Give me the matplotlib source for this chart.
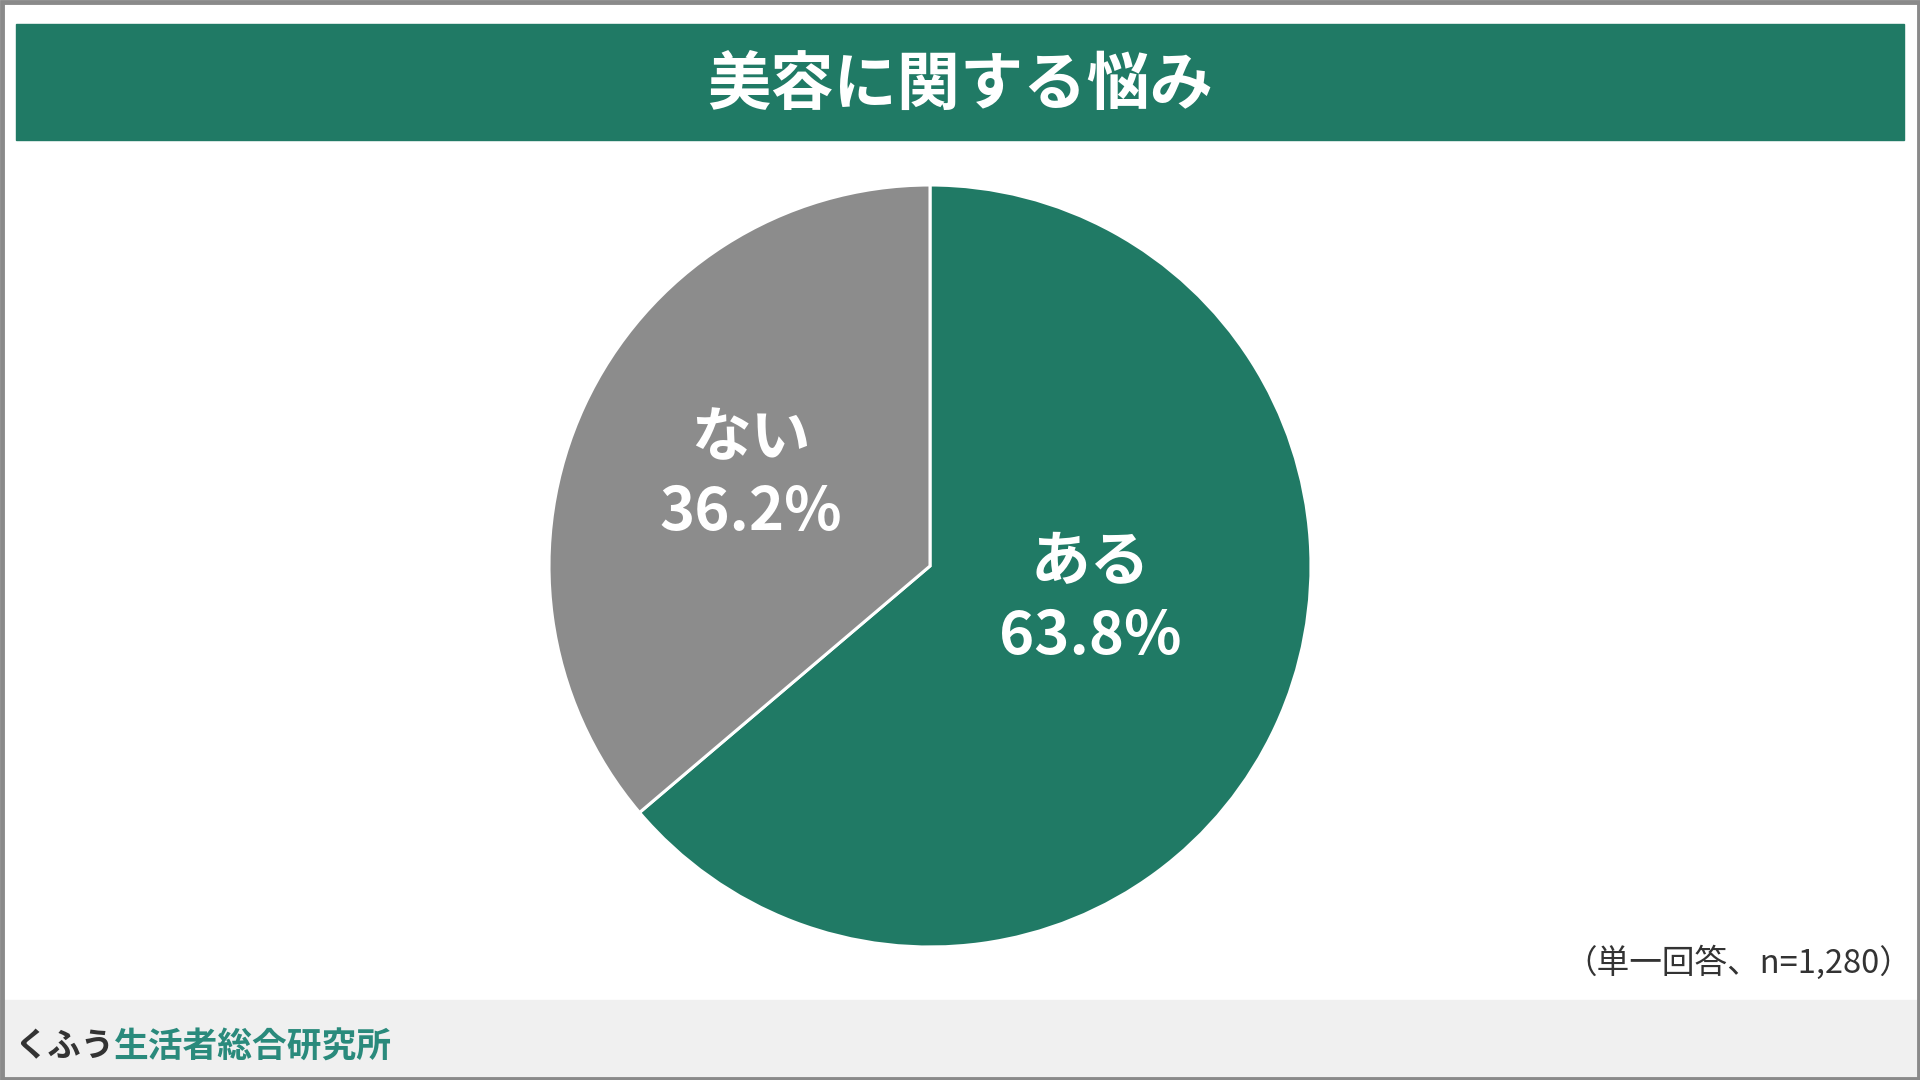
import matplotlib
matplotlib.use("Agg")
import matplotlib.pyplot as plt
from matplotlib.patches import Rectangle

plt.rcParams["font.family"] = ["Noto Sans CJK JP", "DejaVu Sans"]

# data
labels = ["ある", "ない"]
shares = [63.8, 36.2]
colors = ["#207a65", "#8c8c8c"]
title = "美容に関する悩み"
note = "（単一回答、n=1,280）"

W, H = 1920, 1080
fig = plt.figure(figsize=(W / 100, H / 100), dpi=100)
fig.patch.set_facecolor("white")

# outer frame, title bar, footer band (figure pixel coords)
bg = fig.add_axes([0, 0, 1, 1])
bg.set_xlim(0, W)
bg.set_ylim(H, 0)
bg.axis("off")
bg.add_patch(Rectangle((0, 1000), W, 80, color="#f0f0f0", zorder=1))
bg.add_patch(Rectangle((16, 24), 1888, 116, color="#207a65", zorder=1))
bg.add_patch(Rectangle((1.5, 1.5), W - 3, H - 3, fill=False, ec="#8a8a8a", lw=3.5, zorder=5))
bg.text(W / 2, 85, title, color="white", fontsize=45.5, fontweight="bold",
        ha="center", va="center", zorder=3)
bg.text(1912, 963, note, color="#333333", fontsize=23.5, ha="right", va="center")
bg.text(14, 1047, "くふう", color="#333333", fontsize=24, fontweight="bold",
        ha="left", va="center")
bg.text(114, 1047, "生活者総合研究所", color="#2a8a7c", fontsize=25, fontweight="bold",
        ha="left", va="center")

# pie
cx, cy, r = 930, 566, 381
ax = fig.add_axes([(cx - r) / W, (H - cy - r) / H, 2 * r / W, 2 * r / H])
wedges, _ = ax.pie(shares, colors=colors, startangle=90, counterclock=False,
                   radius=1.0, wedgeprops=dict(edgecolor="white", linewidth=2.2))
ax.set_xlim(-1, 1)
ax.set_ylim(-1, 1)
ax.set_aspect("equal")
ax.axis("off")

# label anchors in pie data units
label_pos = [(0.42, -0.09), (-0.47, 0.235)]
for lab, val, (x, y) in zip(labels, shares, label_pos):
    ax.text(x, y + 0.097, lab, color="white", fontsize=43, fontweight="bold",
            ha="center", va="center")
    ax.text(x, y - 0.097, f"{val:.1f}%", color="white", fontsize=43, fontweight="bold",
            ha="center", va="center")

fig.savefig("out.png", dpi=100, facecolor="white")
